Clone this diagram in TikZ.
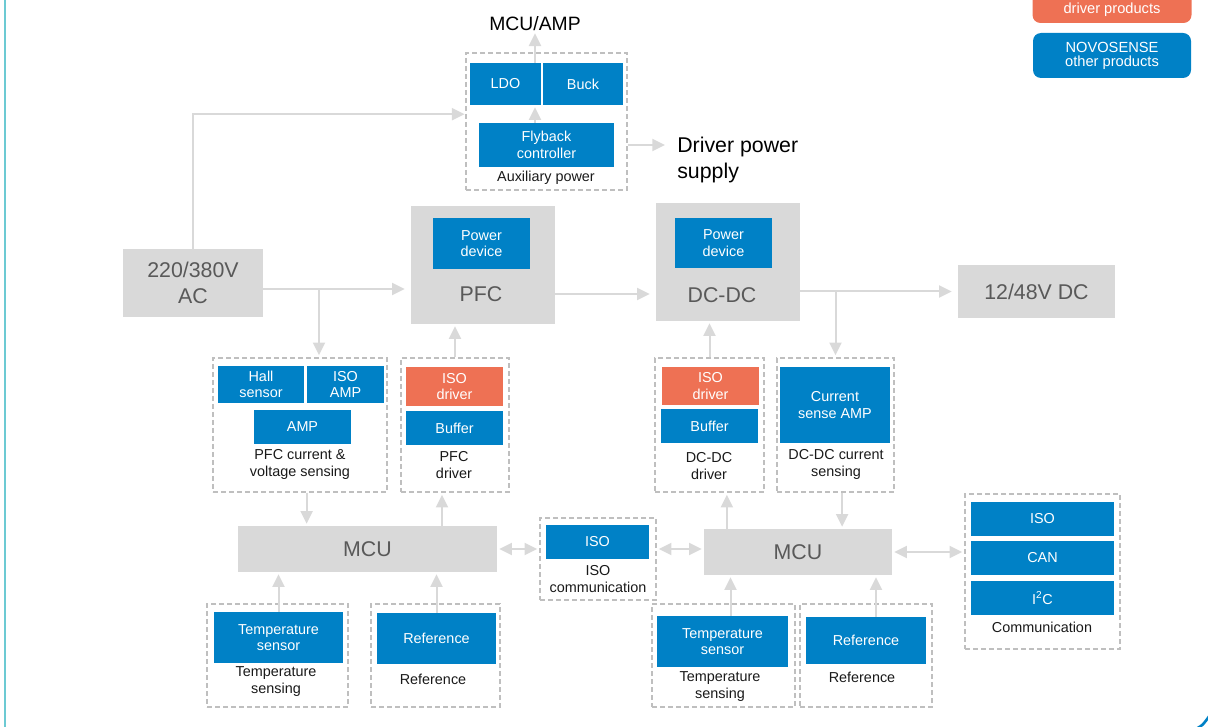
\documentclass[tikz,border=0pt]{standalone}
\usepackage{fontspec}
\setmainfont{Liberation Sans}
\usetikzlibrary{arrows.meta}

\definecolor{nsblue}{HTML}{0081C6}
\definecolor{nsorange}{HTML}{EE7154}
\definecolor{boxgray}{HTML}{D9D9D9}
\definecolor{txtgray}{HTML}{595959}
\definecolor{dashgray}{HTML}{BFBFBF}
\definecolor{arrgray}{HTML}{D9D9D9}
\definecolor{framecyan}{HTML}{6CCAD3}

\begin{document}
\begin{tikzpicture}[x=0.75pt, y=-0.75pt,
  wh/.style 2 args={minimum width=#1*0.75pt, minimum height=#2*0.75pt},
  blk/.style={fill=nsblue, text=white, inner sep=0pt, align=center,
              font=\fontsize{10.8}{12.5}\selectfont},
  drvbox/.style={blk, fill=nsorange},
  gbox/.style={fill=boxgray, text=txtgray, inner sep=0pt, align=center,
               font=\fontsize{16}{19.3}\selectfont},
  grp/.style={draw=dashgray, line width=1.1pt, dash pattern=on 3.5pt off 2.5pt, inner sep=0pt},
  capt/.style={align=center, inner sep=0pt, text=black!90,
              font=\fontsize{10.8}{12.8}\selectfont},
  big/.style={inner sep=0pt, text=black, font=\fontsize{16}{19.5}\selectfont},
  arr/.style={draw=arrgray, line width=1.5pt, -{Triangle[width=9pt,length=9.5pt]}, shorten >=1.5pt},
  darr/.style={arr, {Triangle[width=9pt,length=9.5pt]}-{Triangle[width=9pt,length=9.5pt]}, shorten <=1.5pt},
]
\useasboundingbox (0,0) rectangle (1208,727);

% frame
\draw[framecyan, line width=2pt] (5,-5) -- (5,735);
\draw[nsblue, line width=2pt] (1196,729) .. controls (1203,725) .. (1210,715);

% legend
\node[drvbox, wh={159}{60}, rounded corners=6pt] (lgdrv) at (1112,-7) {};
\node[blk, fill=none, font=\fontsize{11}{10.5}\selectfont] (lgdrvt) at (1112,9.5) {driver products};
\node[blk, wh={158}{45}, rounded corners=6pt, font=\fontsize{11}{10.5}\selectfont] (lgoth) at (1112,55.5)
  {NOVOSENSE\\other products};

% auxiliary power
\node[grp, wh={161}{137}] (aux) at (546.5,121.5) {};
\node[blk, wh={71}{42}] (ldo) at (505.5,84) {LDO};
\node[blk, wh={80}{42}] (buck) at (583,84) {Buck};
\node[blk, wh={135}{44}] (fly) at (546.5,145) {Flyback\\controller};
\node[capt] (auxcap) at (546,178) {Auxiliary power};
\node[inner sep=0pt, font=\fontsize{14.5}{17}\selectfont] (mcuamp) at (535,24) {MCU/AMP};
\node[big, anchor=west, align=left] (drv) at (677,160) {Driver power\\supply};

% power path
\node[gbox, wh={140}{68}] (ac) at (193,283) {220/380V\\AC};
\node[gbox, wh={144}{118}] (pfc) at (483,265) {};
\node[blk, wh={97}{51}] (pfcdev) at (481.5,243.5) {Power\\device};
\node[gbox, fill=none] (pfclbl) at (481,294) {PFC};
\node[gbox, wh={144}{118}] (dcdc) at (728,262) {};
\node[blk, wh={97}{50}] (dcdev) at (723.5,243) {Power\\device};
\node[gbox, fill=none] (dclbl) at (722,295) {DC-DC};
\node[gbox, wh={157}{53}] (out) at (1036.5,291.5) {12/48V DC};

% PFC sensing and driver
\node[grp, wh={174}{134}] (psense) at (300,425) {};
\node[blk, wh={86}{37}] (hall) at (261,384.5) {Hall\\sensor};
\node[blk, wh={77}{37}] (isoamp) at (345.5,384.5) {ISO\\AMP};
\node[blk, wh={97}{34}] (amp) at (302.5,427) {AMP};
\node[capt] (psensecap) at (300,464.5) {PFC current \&\\voltage sensing};

\node[grp, wh={108}{134}] (pdrv) at (455,425) {};
\node[drvbox, wh={97}{39}] (piso) at (454.5,386.5) {ISO\\driver};
\node[blk, wh={97}{34}] (pbuf) at (454.5,428) {Buffer};
\node[capt] (pdrvcap) at (454,465) {PFC\\driver};

% DC-DC driver and sensing
\node[grp, wh={109}{134}] (ddrv) at (709.5,425) {};
\node[drvbox, wh={97}{38}] (diso) at (710.5,386) {ISO\\driver};
\node[blk, wh={97}{34}] (dbuf) at (709.5,426) {Buffer};
\node[capt] (ddrvcap) at (709,466.5) {DC-DC\\driver};

\node[grp, wh={117}{134}] (csense) at (835.5,425) {};
\node[blk, wh={110}{76}] (csamp) at (835,405) {Current\\sense AMP};
\node[capt] (csensecap) at (836,464.5) {DC-DC current\\sensing};

% control
\node[gbox, wh={259}{46}] (mcu1) at (367.5,549) {MCU};
\node[grp, wh={116}{82}] (isoc) at (598,559) {};
\node[blk, wh={103}{34}] (isob) at (597.5,542) {ISO};
\node[capt] (isoccap) at (598,579.5) {ISO\\communication};
\node[gbox, wh={188}{46}] (mcu2) at (798,552) {MCU};

\node[grp, wh={155}{155}] (comm) at (1042.5,571.5) {};
\node[blk, wh={143}{34}] (ciso) at (1042.5,519) {ISO};
\node[blk, wh={143}{34}] (ccan) at (1042.5,558) {CAN};
\node[blk, wh={143}{34}] (ci2c) at (1042.5,598) {I\textsuperscript{2}C};
\node[capt] (commcap) at (1042,627) {Communication};

\node[grp, wh={141}{103}] (ts1) at (277.5,655.5) {};
\node[blk, wh={129}{51}] (ts1s) at (278.5,637.5) {Temperature\\sensor};
\node[capt] (ts1cap) at (276,681.5) {Temperature\\sensing};
\node[grp, wh={129}{103}] (ref1) at (435.5,655.5) {};
\node[blk, wh={119}{51}] (ref1b) at (436.5,638.5) {Reference};
\node[capt] (ref1cap) at (433,679) {Reference};

\node[grp, wh={143}{103}] (ts2) at (723.5,655.5) {};
\node[blk, wh={131}{51}] (ts2s) at (722.5,641.5) {Temperature\\sensor};
\node[capt] (ts2cap) at (720,686.5) {Temperature\\sensing};
\node[grp, wh={132}{103}] (ref2) at (866,655.5) {};
\node[blk, wh={120}{47}] (ref2b) at (866,640.5) {Reference};
\node[capt] (ref2cap) at (862,677) {Reference};

% connectors
\coordinate (acout) at ([yshift=-4.5pt]ac.east);
\draw[arr, shorten >=0.5pt] (ac.north) |- ([yshift=5.5pt]aux.west);
\draw[arr] (fly.north -| mcuamp) -- (ldo.south -| mcuamp);
\draw[arr] (ldo.north -| mcuamp) -- (mcuamp.south);
\draw[arr, shorten >=9pt] (aux.east |- fly) -- (drv.west |- fly);
\draw[arr, shorten >=4.5pt] (acout) -- (acout -| pfc.west);
\draw[arr] ([xshift=14.25pt]psense.north |- acout) -- ([xshift=14.25pt]psense.north);
\draw[arr, shorten >=4.5pt] (pfc.east |- pfclbl) -- (dcdc.west |- pfclbl);
\draw[arr, shorten >=4.5pt] (dcdc.east |- out) -- (out.west);
\draw[arr] (csense.north |- out) -- (csense.north);
\draw[arr] (pdrv.north) -- (pdrv.north |- pfc.south);
\draw[arr] (ddrv.north) -- (ddrv.north |- dcdc.south);
\draw[arr] ([xshift=5pt]psense.south) -- ([xshift=5pt]psense.south |- mcu1.north);
\draw[arr] ([xshift=-9.75pt]pdrv.south |- mcu1.north) -- ([xshift=-9.75pt]pdrv.south);
\draw[darr] (mcu1.east) -- (mcu1 -| isoc.west);
\draw[darr] (isoc.east |- mcu1) -- (mcu1 -| mcu2.west);
\draw[darr] (mcu2.east) -- (mcu2 -| comm.west);
\draw[arr] ([xshift=13pt]ddrv.south |- mcu2.north) -- ([xshift=13pt]ddrv.south);
\draw[arr] ([xshift=5pt]csense.south) -- ([xshift=5pt]csense.south |- mcu2.north);
\draw[arr] (ts1s.north) -- (ts1s.north |- mcu1.south);
\draw[arr] (ref1b.north) -- (ref1b.north |- mcu1.south);
\draw[arr] ([xshift=6pt]ts2s.north) -- ([xshift=6pt]ts2s.north |- mcu2.south);
\draw[arr] ([xshift=7.5pt]ref2b.north) -- ([xshift=7.5pt]ref2b.north |- mcu2.south);

\end{tikzpicture}
\end{document}
